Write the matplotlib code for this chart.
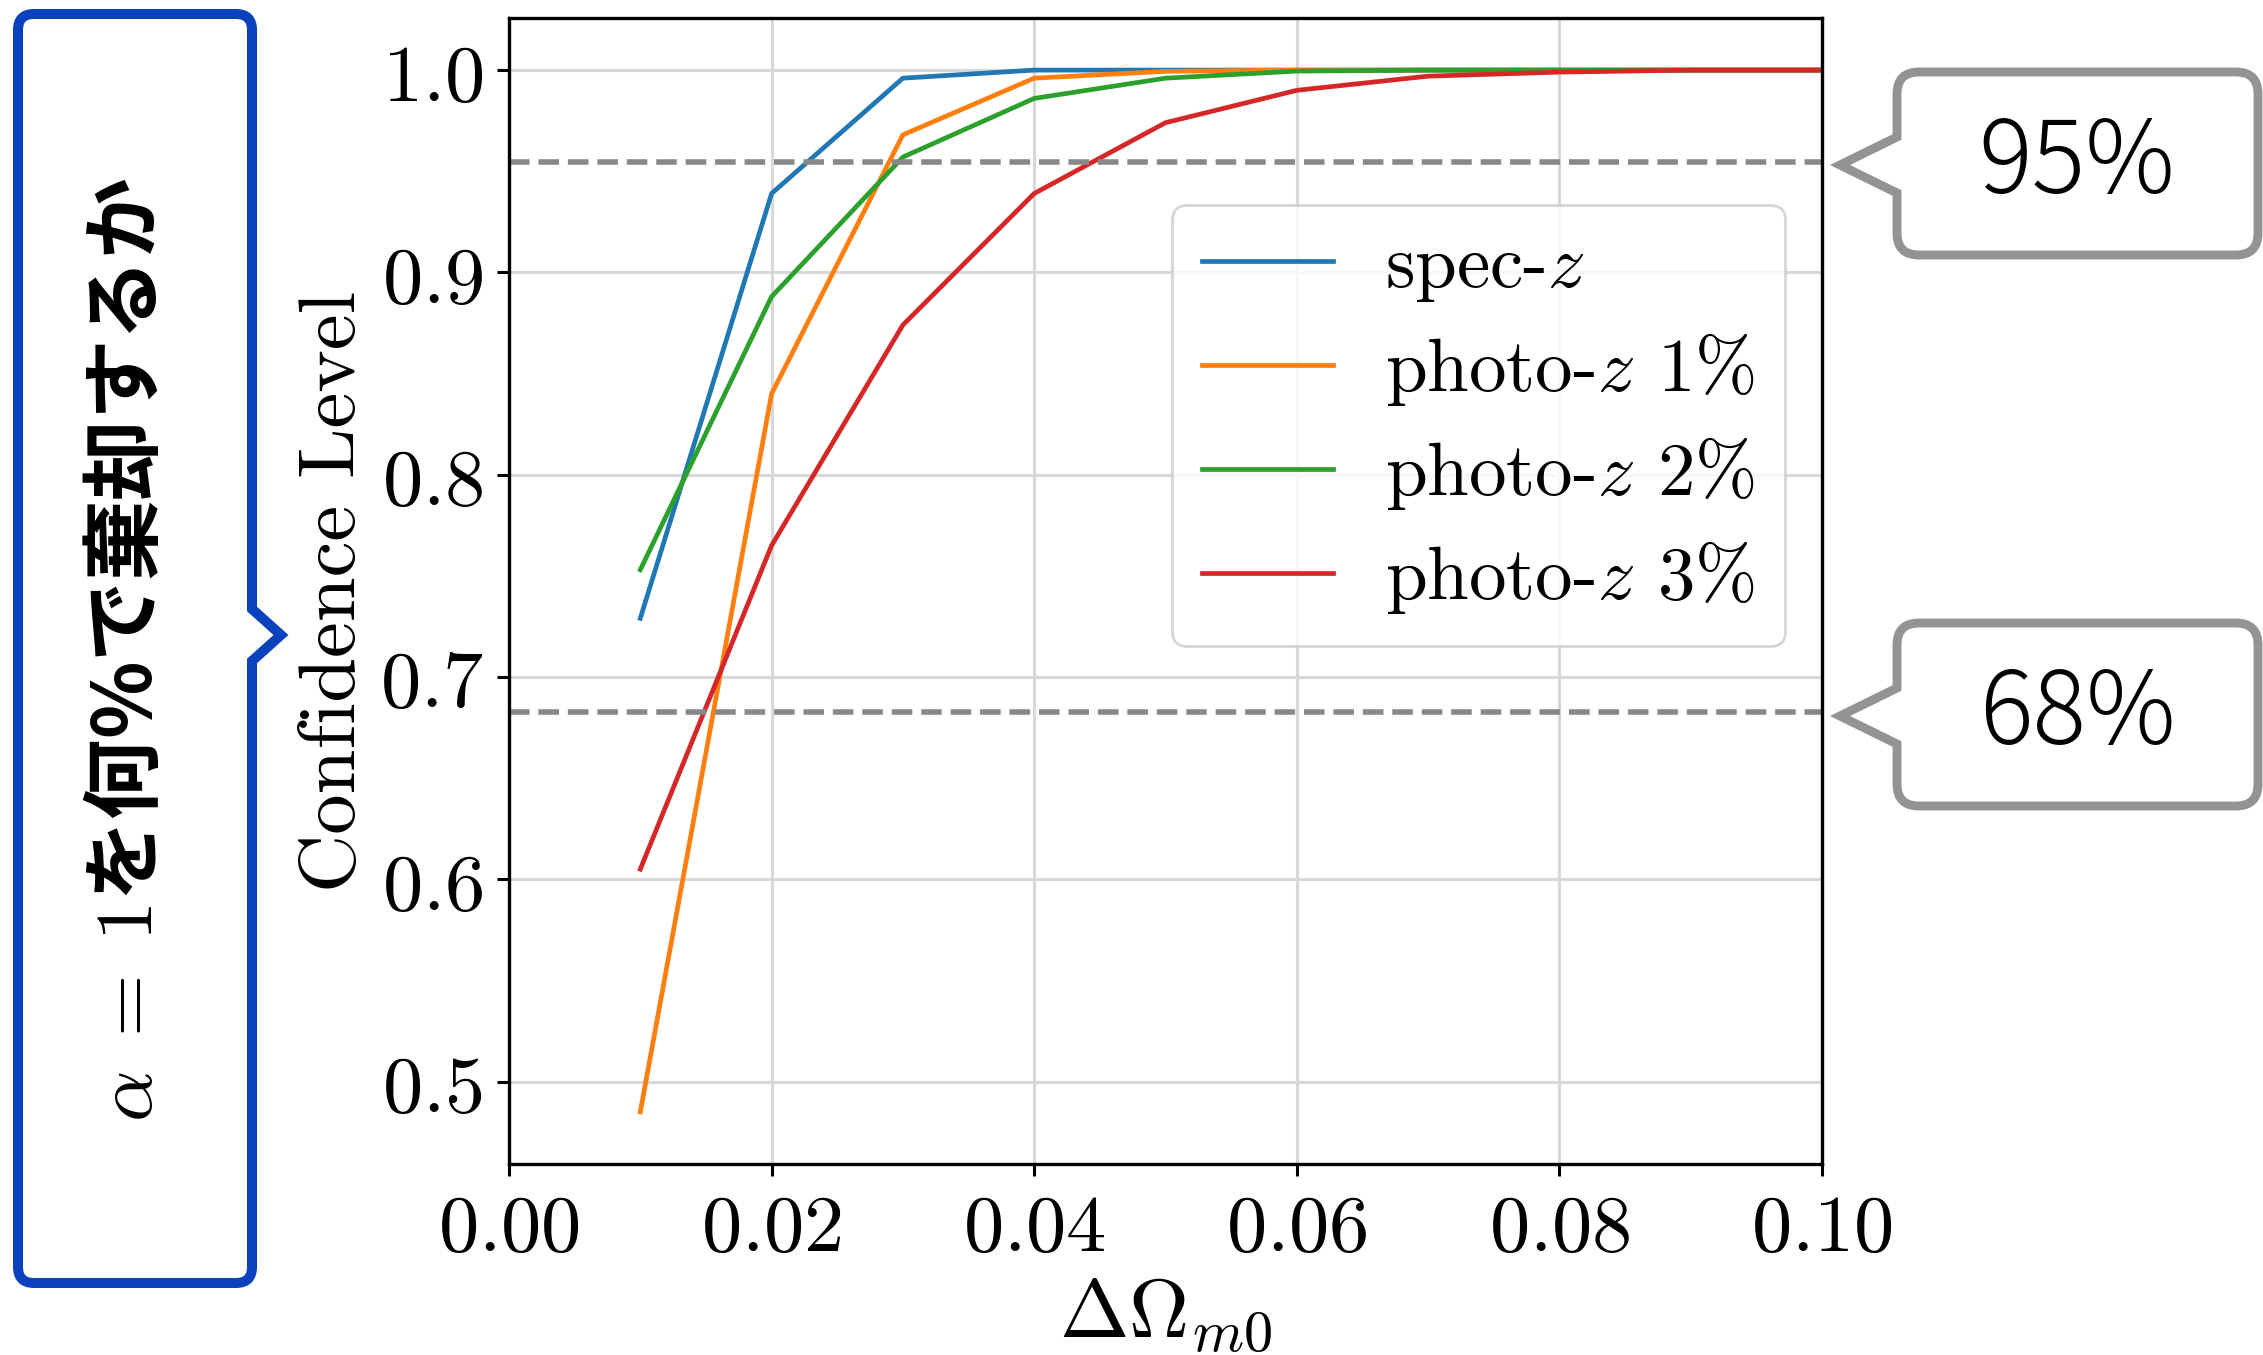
import numpy as np
import matplotlib
matplotlib.use('Agg')
import matplotlib.pyplot as plt
from matplotlib.path import Path
from matplotlib.patches import PathPatch
from matplotlib.ticker import FuncFormatter

plt.rcParams['mathtext.fontset'] = 'cm'
plt.rcParams['axes.unicode_minus'] = False

# Data
d_omega = [0.01, 0.02, 0.03, 0.04, 0.05, 0.06, 0.07, 0.08, 0.09, 0.10]
spec_z = [0.729, 0.939, 0.996, 1.000, 1.000, 1.000, 1.000, 1.000, 1.000, 1.000]
photo_z_1 = [0.485, 0.840, 0.968, 0.996, 0.9994, 1.000, 1.000, 1.000, 1.000, 1.000]
photo_z_2 = [0.753, 0.888, 0.957, 0.986, 0.996, 0.9995, 1.000, 1.000, 1.000, 1.000]
photo_z_3 = [0.605, 0.765, 0.874, 0.939, 0.974, 0.990, 0.997, 0.999, 1.000, 1.000]
labels = [r'spec-$z$', r'photo-$z$ 1%', r'photo-$z$ 2%', r'photo-$z$ 3%']
colors = ['#1f77b4', '#ff7f0e', '#2ca02c', '#d62728']
sigma_levels = [0.9545, 0.6827]
sigma_names = ['95%', '68%']

W, H = 2263, 1355
DPI = 200
fig = plt.figure(figsize=(W / DPI, H / DPI), dpi=DPI)
ax = fig.add_axes([509 / W, 1 - 1164 / H, (1822 - 509) / W, (1164 - 18) / H])

for ys, lab, c in zip([spec_z, photo_z_1, photo_z_2, photo_z_3], labels, colors):
    ax.plot(d_omega, ys, color=c, lw=1.7, label=lab)

for lvl in sigma_levels:
    ax.axhline(lvl, color='#888888', ls='--', lw=2.0)

ax.set_xlim(0, 0.1)
ax.set_xticks([0.0, 0.02, 0.04, 0.06, 0.08, 0.10])
ax.set_yticks([0.5, 0.6, 0.7, 0.8, 0.9, 1.0])
ax.xaxis.set_major_formatter(FuncFormatter(lambda v, p: f'${v:.2f}$'))
ax.yaxis.set_major_formatter(FuncFormatter(lambda v, p: f'${v:.1f}$'))
ax.tick_params(labelsize=29, length=4.3, width=1.1, pad=5)
ax.grid(True, color='#d8d8d8', lw=1.1)
ax.set_axisbelow(True)
for s in ax.spines.values():
    s.set_linewidth(1.2)

ax.set_xlabel(r'$\Delta\Omega_{m0}$', fontsize=30, labelpad=2)
ax.set_ylabel('Confidence Level', fontsize=29, family=['cmr10', 'DejaVu Serif'], labelpad=3)

leg = ax.legend(loc='upper right', bbox_to_anchor=(0.972, 0.837), borderaxespad=0,
                prop={'family': ['cmr10', 'DejaVu Serif'], 'size': 27},
                handlelength=1.75, handletextpad=0.7, labelspacing=0.36,
                fancybox=True, edgecolor='#cccccc', framealpha=0.8, borderpad=0.4)
leg.get_frame().set_linewidth(1.0)


def bubble(x0, y0, x1, y1, r, side, tx, ty, bh):
    # rounded box in figure pixels (y from top) with a pointer on one side
    pts = [(x0 + r, y0), (x1 - r, y0), (x1, y0), (x1, y0 + r)]
    codes = [Path.MOVETO, Path.LINETO, Path.CURVE3, Path.CURVE3]
    if side == 'right':
        pts += [(x1, ty - bh), (tx, ty), (x1, ty + bh)]
        codes += [Path.LINETO] * 3
    pts += [(x1, y1 - r), (x1, y1), (x1 - r, y1), (x0 + r, y1), (x0, y1), (x0, y1 - r)]
    codes += [Path.LINETO, Path.CURVE3, Path.CURVE3, Path.LINETO, Path.CURVE3, Path.CURVE3]
    if side == 'left':
        pts += [(x0, ty + bh), (tx, ty), (x0, ty - bh)]
        codes += [Path.LINETO] * 3
    pts += [(x0, y0 + r), (x0, y0), (x0 + r, y0), (x0 + r, y0)]
    codes += [Path.LINETO, Path.CURVE3, Path.CURVE3, Path.CLOSEPOLY]
    pts = [(px / W, 1 - py / H) for px, py in pts]
    return Path(pts, codes)


# left blue box
fig.patches.append(PathPatch(bubble(18, 14, 252, 1283, 16, 'right', 281, 635, 26),
                             transform=fig.transFigure, facecolor='white',
                             edgecolor='#0a41bd', lw=3.6, joinstyle='miter'))
fig.text(128 / W, 1 - 650 / H, r'$\alpha\;=\;1$を何%で棄却するか', rotation=90,
         ha='center', va='center', fontsize=29, fontweight='bold',
         family=['Noto Sans CJK JP', 'DejaVu Sans'])

# right gray callouts
for (yt, yb, ty), name in zip([(72, 255, 165), (623, 806, 716)], sigma_names):
    fig.patches.append(PathPatch(bubble(1897, yt, 2258, yb, 22, 'left', 1840, ty, 28),
                                 transform=fig.transFigure, facecolor='white',
                                 edgecolor='#939393', lw=3.2, joinstyle='miter'))
    fig.text(2077 / W, 1 - ty / H, name, ha='center', va='center', fontsize=36,
             fontweight='light', family=['Noto Sans CJK JP', 'DejaVu Sans'])

fig.savefig('out.png', dpi=DPI)
